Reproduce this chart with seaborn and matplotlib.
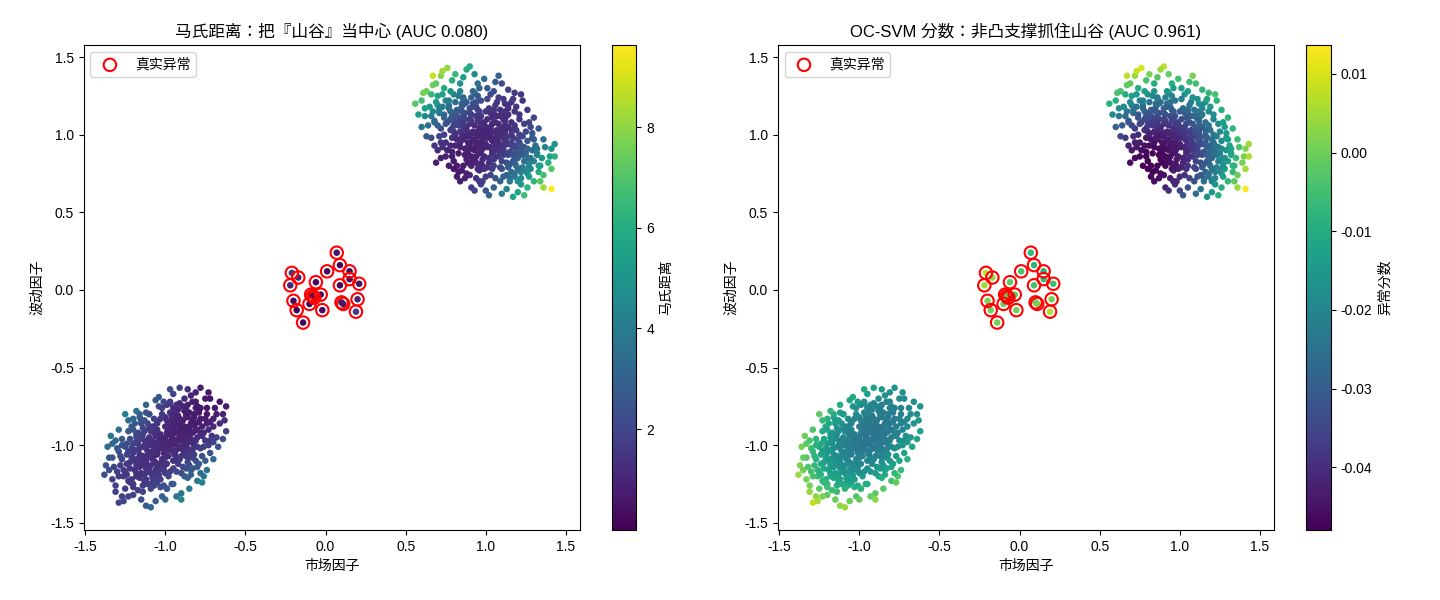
import numpy as np
import pandas as pd
import seaborn as sns
import matplotlib.pyplot as plt
from matplotlib.colors import Normalize

plt.rcParams['font.family'] = ['Liberation Sans', 'Noto Sans CJK JP']
plt.rcParams['axes.unicode_minus'] = False

# (市场因子, 波动因子) points, upper-right cluster
ur_pts = [
    (1.01, 0.98), (0.95, 1.02), (1.06, 0.93), (0.98, 0.91), (1.03, 1.05), (0.92, 0.97), (1.09, 0.99), (0.99, 1.08), (1.04, 0.88), (0.97, 0.95),
    (1.07, 1.03), (0.93, 1.06), (1.00, 0.94), (1.11, 0.91), (0.96, 0.88), (1.02, 1.01), (0.89, 1.01), (1.05, 0.97), (0.98, 1.03), (1.08, 0.86),
    (0.94, 0.93), (1.01, 1.10), (1.12, 0.96), (0.91, 1.09), (0.99, 0.86), (1.04, 1.07), (0.95, 0.99), (1.06, 0.90), (0.97, 1.12), (1.10, 1.04),
    (0.90, 0.94), (1.03, 0.92), (0.96, 1.04), (1.08, 0.95), (1.00, 1.00), (0.93, 0.90), (1.05, 1.02), (0.98, 0.97), (1.13, 0.88), (0.88, 1.05),
    (1.02, 0.85), (0.94, 1.12), (1.07, 0.99), (1.01, 0.92), (0.97, 1.07), (1.10, 0.93), (0.92, 1.02), (1.04, 0.96), (0.99, 0.93), (1.06, 1.08),
    (0.95, 0.95), (1.03, 0.99), (0.90, 0.99), (1.09, 0.89), (1.00, 1.05), (0.96, 0.92), (1.12, 1.01), (0.87, 1.10), (1.05, 0.84), (0.98, 1.00),
    (1.02, 1.04), (0.93, 0.96), (1.08, 0.92), (0.97, 0.89), (1.01, 1.02), (1.14, 0.94), (0.91, 1.13), (1.04, 0.90), (0.95, 1.09), (1.07, 0.96),
    (0.82, 1.12), (1.18, 0.82), (0.85, 1.18), (1.20, 0.85), (0.80, 1.02), (1.21, 0.95), (0.88, 0.84), (1.13, 1.12), (0.78, 1.15), (1.23, 0.79),
    (0.92, 1.20), (1.16, 0.76), (0.84, 0.95), (1.19, 1.03), (0.95, 0.78), (1.06, 1.19), (0.76, 1.08), (1.25, 0.88), (0.86, 1.24), (1.15, 0.72),
    (0.81, 1.21), (1.22, 0.76), (0.89, 0.88), (1.12, 1.15), (0.79, 0.98), (1.17, 0.98), (0.97, 1.22), (1.03, 0.74), (0.83, 1.06), (1.24, 0.83),
    (0.90, 1.17), (1.14, 0.79), (0.87, 0.91), (1.16, 1.08), (0.77, 1.19), (1.27, 0.81), (0.94, 0.82), (1.09, 1.16), (0.80, 1.09), (1.20, 0.91),
    (0.85, 1.01), (1.18, 0.88), (0.91, 1.24), (1.11, 0.73), (0.83, 0.88), (1.14, 1.17), (0.74, 1.13), (1.26, 0.75), (0.88, 1.21), (1.19, 0.80),
    (0.96, 0.81), (1.05, 1.14), (0.82, 1.16), (1.23, 0.87), (0.86, 0.97), (1.15, 0.94), (0.93, 1.27), (1.10, 0.78), (0.79, 1.04), (1.21, 1.00),
    (0.87, 1.14), (1.17, 0.83), (0.91, 0.86), (1.12, 1.09), (0.75, 1.22), (1.28, 0.78), (0.98, 0.80), (1.07, 1.21), (0.84, 1.10), (1.22, 0.90),
    (0.89, 0.92), (1.13, 0.82), (0.94, 1.18), (1.16, 1.03), (0.81, 0.93), (1.24, 0.92), (0.85, 1.20), (1.18, 0.73), (0.92, 0.83), (1.09, 1.12),
    (0.78, 1.10), (1.26, 0.85), (0.96, 1.15), (1.04, 0.78), (0.86, 1.05), (1.20, 0.78), (0.83, 1.25), (1.14, 0.87), (0.90, 1.07), (1.11, 0.98),
    (1.12, 1.06), (0.88, 0.99), (1.15, 0.89), (0.86, 1.07), (1.03, 1.14), (0.97, 0.81), (1.16, 1.00), (0.84, 0.92), (1.10, 0.83), (0.90, 1.14),
    (1.19, 0.93), (0.81, 1.00), (1.07, 1.12), (0.93, 0.84), (1.14, 1.05), (0.87, 0.87), (1.01, 0.79), (0.95, 1.16), (1.17, 0.87), (0.83, 1.08),
    (1.11, 1.10), (0.89, 0.82), (1.20, 0.97), (0.82, 0.97), (1.05, 0.80), (0.92, 1.18), (1.13, 0.94), (0.86, 1.12), (1.08, 1.07), (0.94, 0.86),
    (1.18, 1.06), (0.80, 1.06), (1.02, 1.17), (0.99, 0.78), (1.15, 0.81), (0.85, 1.15), (1.09, 1.01), (0.91, 0.91), (1.21, 0.88), (0.79, 1.12),
    (1.06, 0.86), (0.96, 1.10), (1.13, 0.98), (0.88, 1.03), (1.04, 1.11), (0.98, 0.84), (1.17, 0.92), (0.84, 1.02), (1.11, 0.87), (0.90, 1.10),
    (1.14, 1.13), (0.86, 0.80), (1.00, 1.15), (1.02, 0.82), (1.19, 0.85), (0.81, 1.14), (1.07, 0.93), (0.93, 1.01), (1.12, 1.03), (0.89, 0.95),
    (1.22, 0.93), (0.78, 1.03), (1.05, 1.16), (0.96, 0.77), (1.16, 0.95), (0.85, 0.98), (1.10, 1.12), (0.91, 0.80), (1.09, 0.79), (0.94, 1.21),
    (1.25, 1.02), (0.75, 0.95), (1.21, 1.10), (0.79, 0.86), (1.29, 0.90), (0.72, 1.04), (1.12, 1.20), (0.88, 0.75), (1.30, 0.83), (0.71, 1.14),
    (1.18, 1.15), (0.82, 0.80), (1.26, 0.96), (0.74, 1.00), (1.08, 1.24), (0.94, 0.72), (1.32, 0.87), (0.68, 1.09), (1.22, 0.72), (0.77, 1.22),
    (1.15, 0.70), (0.84, 1.28), (1.27, 0.79), (0.73, 1.18), (1.03, 1.26), (0.98, 0.70), (1.24, 1.07), (0.76, 0.90), (1.31, 0.93), (0.70, 1.19),
    (1.11, 1.23), (0.90, 0.74), (1.28, 0.85), (0.74, 1.11), (1.19, 1.18), (0.80, 0.83), (1.34, 0.80), (0.67, 1.15), (1.06, 0.72), (0.95, 1.25),
    (1.23, 0.99), (0.78, 0.93), (1.20, 0.70), (0.80, 1.26), (1.29, 1.01), (0.71, 0.99), (1.16, 1.21), (0.85, 0.77), (1.33, 0.76), (0.69, 1.21),
    (1.09, 0.70), (0.92, 1.28), (1.26, 0.91), (0.75, 1.07), (1.14, 1.19), (0.83, 0.76), (1.30, 0.97), (0.72, 0.95), (1.24, 0.77), (0.77, 1.17),
    (1.18, 0.75), (0.86, 1.23), (1.28, 1.05), (0.73, 0.92), (1.01, 1.23), (1.00, 0.73), (1.35, 0.85), (0.66, 1.12), (1.13, 0.74), (0.87, 1.20),
    (1.21, 1.13), (0.79, 0.89), (1.27, 0.73), (0.73, 1.26), (1.05, 1.28), (0.97, 0.68), (1.32, 0.91), (0.70, 1.06), (1.17, 1.23), (0.82, 0.73),
    (0.60, 1.22), (0.56, 1.20), (0.63, 1.28), (0.67, 1.32), (0.72, 1.38), (0.76, 1.43), (0.70, 1.25), (0.65, 1.18), (0.74, 1.30), (0.79, 1.35),
    (0.90, 1.44), (0.86, 1.37), (0.62, 1.12), (0.68, 1.08), (0.71, 1.16), (0.60, 1.05), (0.66, 0.98), (0.70, 0.90), (0.69, 0.82), (0.75, 0.86),
    (0.73, 0.94), (0.80, 0.78), (0.91, 0.66), (0.87, 0.72), (0.96, 0.70), (1.05, 0.66), (1.00, 0.64), (1.17, 0.60), (1.13, 0.65), (1.22, 0.68),
    (1.30, 0.70), (1.36, 0.74), (1.41, 0.65), (1.33, 0.80), (1.40, 0.86), (1.43, 0.94), (1.37, 0.92), (1.32, 0.88), (1.29, 0.98), (1.23, 1.22),
    (1.18, 1.27), (1.06, 1.34), (1.01, 1.30), (0.95, 1.33), (1.27, 1.08), (0.62, 1.17), (0.66, 1.26), (0.69, 1.33), (0.73, 1.41), (0.81, 1.39),
    (0.84, 1.33), (0.58, 1.13), (0.64, 1.06), (0.63, 0.99), (0.68, 0.93), (0.72, 0.85), (0.77, 0.80), (0.84, 0.70), (0.93, 0.64), (1.02, 0.61),
    (1.10, 0.62), (1.20, 0.63), (1.26, 0.66), (1.34, 0.70), (1.41, 0.78), (1.39, 0.82), (1.41, 0.91), (1.36, 0.97), (1.33, 1.04), (1.30, 1.11),
    (1.26, 1.16), (1.22, 1.26), (1.14, 1.29), (1.10, 1.33), (0.99, 1.36), (0.93, 1.39), (0.88, 1.42), (0.78, 1.28), (0.61, 1.27), (1.36, 0.66),
    (1.43, 0.86), (0.67, 1.38), (1.08, 1.38), (0.96, 1.30), (1.24, 0.61),
]

# lower-left cluster
ll_pts = [
    (-1.00, -1.01), (-0.96, -0.95), (-1.05, -1.04), (-0.93, -0.99), (-1.08, -0.97), (-0.99, -0.92), (-1.02, -1.09), (-0.91, -0.93), (-1.10, -1.06), (-0.97, -1.03),
    (-1.04, -0.94), (-0.95, -0.90), (-1.06, -1.11), (-0.98, -0.98), (-1.12, -1.02), (-0.90, -0.97), (-1.01, -1.05), (-0.94, -1.06), (-1.07, -0.92), (-1.03, -0.99),
    (-0.97, -0.88), (-1.09, -1.13), (-0.92, -1.02), (-1.00, -0.95), (-1.13, -1.08), (-0.89, -0.90), (-1.04, -1.00), (-0.99, -1.12), (-1.06, -0.99), (-0.95, -0.96),
    (-1.11, -0.98), (-0.93, -0.87), (-1.02, -1.02), (-0.98, -1.07), (-1.08, -1.04), (-0.90, -1.01), (-1.05, -0.90), (-0.96, -1.00), (-1.14, -1.12), (-0.88, -0.93),
    (-1.01, -0.98), (-0.94, -0.92), (-1.07, -1.07), (-0.99, -1.03), (-1.10, -0.95), (-0.92, -0.96), (-1.03, -1.12), (-0.97, -0.93), (-1.06, -1.02), (-0.91, -0.88),
    (-1.00, -1.08), (-1.09, -1.00), (-0.95, -1.04), (-1.04, -0.97), (-0.87, -0.95), (-1.12, -1.10), (-0.98, -0.90), (-1.02, -0.96), (-0.93, -1.03), (-1.08, -1.09),
    (-0.96, -0.98), (-1.05, -1.06), (-0.90, -0.91), (-1.01, -1.14), (-1.11, -1.04), (-0.94, -0.99), (-1.03, -0.93), (-0.99, -1.00), (-1.07, -1.01), (-0.92, -0.91),
    (-0.82, -0.80), (-1.18, -1.20), (-0.85, -0.88), (-1.15, -1.12), (-0.80, -0.90), (-1.20, -1.05), (-0.88, -0.78), (-1.12, -1.22), (-0.84, -0.96), (-1.17, -0.99),
    (-0.92, -0.81), (-1.08, -1.21), (-0.78, -0.83), (-1.22, -1.15), (-0.86, -1.02), (-1.14, -0.93), (-0.95, -0.80), (-1.05, -1.19), (-0.81, -0.86), (-1.19, -1.10),
    (-0.89, -0.84), (-1.11, -1.17), (-0.83, -0.92), (-1.16, -1.06), (-0.79, -0.78), (-1.23, -1.23), (-0.87, -0.97), (-1.13, -1.01), (-0.94, -0.84), (-1.06, -1.16),
    (-0.80, -0.95), (-1.21, -1.08), (-0.86, -0.82), (-1.15, -1.18), (-0.90, -1.07), (-1.10, -0.89), (-0.97, -0.79), (-1.03, -1.22), (-0.77, -0.88), (-1.24, -1.12),
    (-0.85, -0.79), (-1.17, -1.14), (-0.82, -1.00), (-1.18, -0.98), (-0.91, -0.83), (-1.09, -1.18), (-0.84, -0.87), (-1.19, -1.16), (-0.88, -1.05), (-1.14, -0.96),
    (-0.96, -0.84), (-1.04, -1.16), (-0.79, -0.85), (-1.22, -1.11), (-0.87, -0.91), (-1.13, -1.13), (-0.93, -1.09), (-1.07, -0.88), (-0.81, -0.76), (-1.20, -1.25),
    (-0.89, -0.94), (-1.11, -1.07), (-0.83, -0.84), (-1.16, -1.21), (-0.92, -0.77), (-1.08, -1.24), (-0.86, -1.08), (-1.21, -1.02), (-0.78, -0.92), (-1.15, -1.09),
    (-0.90, -0.86), (-1.10, -1.14), (-0.85, -0.93), (-1.17, -1.03), (-0.95, -1.10), (-1.05, -0.86), (-0.82, -0.87), (-1.18, -1.13), (-0.88, -0.99), (-1.12, -1.15),
    (-0.88, -1.00), (-1.12, -0.98), (-0.98, -0.86), (-1.02, -1.14), (-0.86, -0.93), (-1.14, -1.07), (-1.05, -0.85), (-0.95, -1.15), (-0.83, -1.03), (-1.17, -0.97),
    (-0.92, -1.12), (-1.08, -0.88), (-1.10, -1.16), (-0.90, -0.84), (-0.87, -1.07), (-1.13, -0.91), (-1.00, -0.82), (-1.00, -1.18), (-0.84, -0.98), (-1.16, -1.02),
    (-0.94, -0.83), (-1.06, -1.17), (-1.18, -1.09), (-0.82, -0.91), (-0.91, -1.09), (-1.09, -0.91), (-1.03, -0.83), (-0.97, -1.17), (-0.85, -1.05), (-1.15, -0.94),
    (-0.89, -1.14), (-1.11, -0.86), (-1.13, -1.19), (-0.87, -0.81), (-0.81, -0.97), (-1.19, -1.03), (-0.96, -0.81), (-1.04, -1.19), (-0.89, -1.03), (-1.11, -0.97),
    (-1.07, -0.83), (-0.93, -1.17), (-1.16, -1.14), (-0.84, -0.86), (-0.86, -1.11), (-1.14, -0.89), (-0.99, -0.84), (-1.01, -1.16), (-0.80, -1.01), (-1.20, -0.99),
    (-0.95, -0.87), (-1.05, -1.13), (-1.12, -1.12), (-0.88, -0.88), (-0.83, -1.08), (-1.17, -0.92), (-1.02, -0.80), (-0.98, -1.20), (-0.85, -0.90), (-1.15, -1.10),
    (-0.91, -0.95), (-1.09, -1.05), (-1.06, -0.94), (-0.94, -1.06), (-0.87, -1.00), (-1.13, -1.00), (-1.00, -0.88), (-1.00, -1.12), (-0.82, -0.82), (-1.18, -1.18),
    (-0.76, -0.92), (-1.24, -1.06), (-0.93, -0.74), (-1.07, -1.26), (-0.74, -0.80), (-1.26, -1.20), (-0.81, -1.10), (-1.19, -0.86), (-0.78, -1.02), (-1.22, -0.96),
    (-0.86, -0.74), (-1.14, -1.26), (-0.72, -0.85), (-1.28, -1.13), (-0.84, -1.16), (-1.16, -0.82), (-0.99, -0.74), (-1.01, -1.26), (-0.75, -0.97), (-1.25, -1.01),
    (-0.80, -0.75), (-1.20, -1.27), (-0.73, -0.90), (-1.27, -1.09), (-0.88, -1.20), (-1.12, -0.79), (-0.91, -0.73), (-1.09, -1.28), (-0.77, -1.07), (-1.23, -0.91),
    (-0.83, -0.72), (-1.17, -1.29), (-0.71, -0.94), (-1.29, -1.04), (-0.80, -1.14), (-1.20, -0.83), (-1.04, -0.75), (-0.96, -1.25), (-0.74, -0.86), (-1.26, -1.16),
    (-0.87, -0.77), (-1.13, -1.23), (-0.76, -1.01), (-1.24, -0.99), (-0.85, -1.13), (-1.15, -0.86), (-0.95, -0.76), (-1.05, -1.24), (-0.79, -0.79), (-1.21, -1.22),
    (-0.73, -1.00), (-1.27, -1.00), (-0.90, -1.18), (-1.10, -0.80), (-0.78, -0.76), (-1.22, -1.24), (-0.82, -1.06), (-1.18, -0.93), (-0.97, -0.73), (-1.03, -1.27),
    (-0.75, -0.83), (-1.25, -1.17), (-0.84, -1.19), (-1.16, -0.80), (-0.89, -0.75), (-1.11, -1.25), (-0.72, -0.97), (-1.28, -1.07), (-0.79, -1.12), (-1.21, -0.88),
    (-0.94, -0.78), (-1.06, -1.22), (-0.77, -0.94), (-1.23, -1.04), (-0.87, -1.15), (-1.13, -0.84), (-1.01, -0.72), (-0.99, -1.28), (-0.70, -0.83), (-1.30, -1.17),
    (-0.78, -0.63), (-0.91, -0.63), (-0.72, -0.70), (-0.66, -0.72), (-0.62, -0.75), (-0.62, -0.91), (-0.68, -0.80), (-0.74, -0.76), (-0.84, -0.68), (-0.88, -0.70),
    (-0.97, -0.72), (-1.02, -0.76), (-1.10, -0.80), (-1.15, -0.84), (-1.06, -0.71), (-1.20, -0.90), (-1.34, -0.94), (-1.30, -1.02), (-1.37, -1.13), (-1.33, -1.08),
    (-1.27, -0.96), (-1.25, -1.28), (-1.29, -1.37), (-1.27, -1.33), (-1.20, -1.32), (-1.09, -1.40), (-1.14, -1.30), (-1.02, -1.33), (-0.90, -1.31), (-0.95, -1.25),
    (-0.76, -1.20), (-0.78, -1.18), (-0.83, -1.15), (-0.72, -1.05), (-0.70, -0.98), (-0.66, -0.86), (-0.75, -1.10), (-1.29, -1.20), (-1.24, -1.19), (-0.70, -0.88),
    (-1.31, -1.26), (-0.99, -1.28), (-0.86, -1.21), (-0.81, -0.72), (-1.18, -0.95), (-0.81, -0.66), (-0.86, -0.64), (-0.73, -0.66), (-0.69, -0.76), (-0.64, -0.80),
    (-0.64, -0.96), (-0.67, -1.01), (-0.70, -1.09), (-0.74, -1.16), (-0.80, -1.23), (-0.85, -1.28), (-0.93, -1.33), (-1.00, -1.35), (-1.06, -1.36), (-1.15, -1.35),
    (-1.23, -1.33), (-1.31, -1.30), (-1.33, -1.22), (-1.35, -1.16), (-1.32, -1.14), (-1.36, -1.01), (-1.31, -0.97), (-1.29, -0.90), (-1.23, -0.84), (-1.18, -0.78),
    (-1.12, -0.74), (-1.04, -0.69), (-0.95, -0.67), (-1.25, -0.80), (-1.35, -1.08), (-0.68, -0.95), (-0.63, -0.84), (-0.77, -1.24), (-1.26, -1.36), (-1.12, -1.39),
    (-0.97, -0.64), (-0.75, -0.70), (-1.33, -0.99), (-0.90, -1.35), (-1.38, -1.19),
]

# true anomalies in the "valley"
an_pts = [
    (0.07, 0.24), (0.09, 0.16), (0.01, 0.12), (0.15, 0.12), (0.15, 0.07), (0.21, 0.04),
    (0.09, 0.03), (-0.06, 0.05), (-0.21, 0.11), (-0.17, 0.08), (-0.22, 0.03), (-0.09, -0.03),
    (-0.07, -0.05), (-0.03, -0.03), (-0.10, -0.09), (-0.20, -0.07), (-0.18, -0.13), (-0.02, -0.13),
    (0.10, -0.08), (0.11, -0.09), (0.20, -0.06), (0.19, -0.14), (-0.14, -0.21), (-0.08, -0.04),
]

auc_maha = 0.080
auc_svm = 0.961
nu = 0.05
maha_ticks = [2, 4, 6, 8]

df = pd.DataFrame(ur_pts + ll_pts + an_pts, columns=["x", "y"])
X = df[["x", "y"]].to_numpy()
an_x = [p[0] for p in an_pts]
an_y = [p[1] for p in an_pts]

# squared Mahalanobis distance from the global centre
diff = X - X.mean(axis=0)
inv_cov = np.linalg.inv(np.cov(X.T))
df["maha"] = np.einsum("ij,jk,ik->i", diff, inv_cov, diff)

# one-class SVM (rbf, gamma="scale"), dual solved by projected gradient
gamma = 1.0 / (X.shape[1] * X.var())
K = np.exp(-gamma * ((X[:, None, :] - X[None, :, :]) ** 2).sum(-1))
n = len(X)
C = 1.0 / (nu * n)
step = 1.0 / np.linalg.eigvalsh(K)[-1]


def project(v):
    lo, hi = v.min() - C, v.max()
    for _ in range(60):
        tau = (lo + hi) / 2
        if np.clip(v - tau, 0, C).sum() > 1:
            lo = tau
        else:
            hi = tau
    return np.clip(v - (lo + hi) / 2, 0, C)


alpha = np.full(n, 1.0 / n)
for _ in range(3000):
    alpha = project(alpha - step * (K @ alpha))
g = K @ alpha
free = (alpha > 1e-6 * C) & (alpha < C * (1 - 1e-6))
rho = g[free].mean() if free.any() else np.quantile(g, nu)
df["svm"] = rho - g

fig = plt.figure(figsize=(14.4, 6), dpi=100)
ax1 = fig.add_axes([0.058, 0.117, 0.345, 0.808])
cax1 = fig.add_axes([0.425, 0.117, 0.017, 0.808])
ax2 = fig.add_axes([0.540, 0.117, 0.345, 0.808])
cax2 = fig.add_axes([0.907, 0.117, 0.017, 0.808])

panels = [
    (ax1, cax1, "maha", "马氏距离", f"马氏距离：把『山谷』当中心 (AUC {auc_maha:.3f})"),
    (ax2, cax2, "svm", "异常分数", f"OC-SVM 分数：非凸支撑抓住山谷 (AUC {auc_svm:.3f})"),
]
for ax, cax, col, cbar_label, title in panels:
    norm = Normalize(df[col].min(), df[col].max())
    sns.scatterplot(data=df, x="x", y="y", hue=col, palette="viridis", hue_norm=norm,
                    s=22, linewidth=0, legend=False, ax=ax)
    ax.scatter(an_x, an_y, s=80, facecolors="none", edgecolors="red",
               linewidths=1.5, label="真实异常")
    ax.set_xlim(-1.51, 1.59)
    ax.set_ylim(-1.545, 1.578)
    ax.set_xticks([-1.5, -1.0, -0.5, 0.0, 0.5, 1.0, 1.5])
    ax.set_yticks([-1.5, -1.0, -0.5, 0.0, 0.5, 1.0, 1.5])
    ax.set_xlabel("市场因子")
    ax.set_ylabel("波动因子")
    ax.set_title(title)
    ax.legend(loc="upper left")
    sm = plt.cm.ScalarMappable(norm=norm, cmap="viridis")
    cb = fig.colorbar(sm, cax=cax)
    cb.set_label(cbar_label)
    if col == "maha":
        cb.set_ticks(maha_ticks)

fig.savefig("out.png", dpi=100)
